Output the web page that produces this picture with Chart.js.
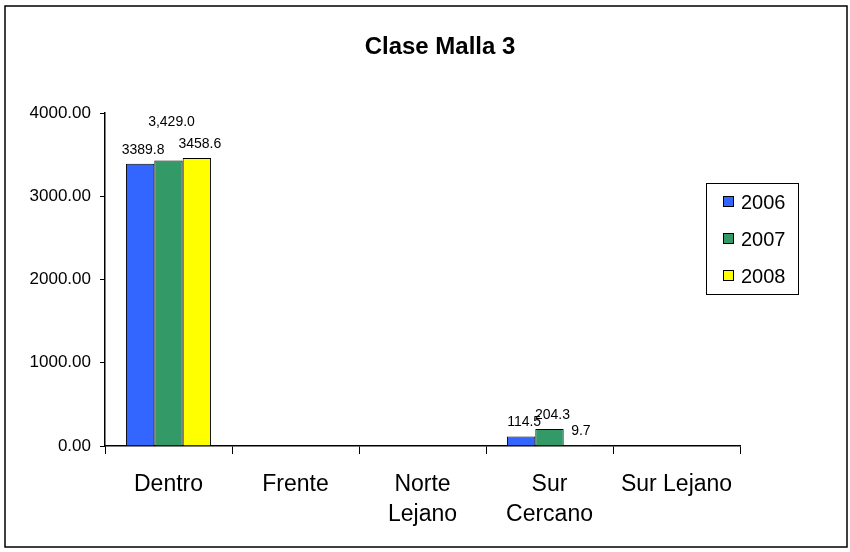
<!DOCTYPE html>
<html>
<head>
<meta charset="utf-8">
<script src="https://cdn.jsdelivr.net/npm/chart.js@4/dist/chart.umd.min.js"></script>
<style>
  html, body { margin: 0; padding: 0; background: #fff; }
  #wrap { width: 850px; height: 552px; position: relative; }
</style>
</head>
<body>
<div id="wrap"><canvas id="chart" width="850" height="552"></canvas></div>
<script>
// Clase Malla 3 - bar chart

const categories = ['Dentro', 'Frente', ['Norte', 'Lejano'], ['Sur', 'Cercano'], 'Sur Lejano'];
const years = ['2006', '2007', '2008'];
const values2006 = [3389.8, null, null, 114.5, null];
const values2007 = [3429.0, null, null, 204.3, null];
const values2008 = [3458.6, null, null, 9.7, null];
const labels2006 = ['3389.8', null, null, '114.5', null];
const labels2007 = ['3,429.0', null, null, '204.3', null];
const labels2008 = ['3458.6', null, null, '9.7', null];
const yTicks = [0, 1000, 2000, 3000, 4000];

const colors = ['#3366FF', '#339966', '#FFFF00'];
const FONT = 'Liberation Sans, Arial, sans-serif';

// extra lift for labels that Excel moved up to avoid overlap
const labelLift = { '1-0': 24 };

const frameAndTitle = {
    id: 'frameAndTitle',
    beforeDraw(chart) {
        const c = chart.ctx;
        c.save();
        c.fillStyle = '#fff';
        c.fillRect(0, 0, chart.width, chart.height);
        c.strokeStyle = '#000';
        c.lineWidth = 1.5;
        c.strokeRect(5, 6, 842, 541);
        c.fillStyle = '#000';
        c.font = 'bold 24px ' + FONT;
        c.textAlign = 'center';
        c.textBaseline = 'middle';
        c.fillText('Clase Malla 3', 440, 47);
        c.restore();
    },
    afterDraw(chart) {
        const c = chart.ctx;
        c.save();
        // data labels
        c.font = '14px ' + FONT;
        c.fillStyle = '#000';
        c.textAlign = 'center';
        c.textBaseline = 'middle';
        const allLabels = [labels2006, labels2007, labels2008];
        chart.data.datasets.forEach((ds, di) => {
            const meta = chart.getDatasetMeta(di);
            meta.data.forEach((bar, i) => {
                const txt = allLabels[di][i];
                if (!txt) return;
                const lift = labelLift[di + '-' + i] || 0;
                c.fillText(txt, bar.x + 3, bar.y - 14 - lift);
            });
        });
        // legend
        c.strokeStyle = '#000';
        c.lineWidth = 1;
        c.strokeRect(706.5, 183.5, 92, 111);
        c.font = '20px ' + FONT;
        c.textAlign = 'left';
        years.forEach((y, k) => {
            const cy = 202 + k * 37;
            c.fillStyle = colors[k];
            c.fillRect(723.5, cy - 5.5, 10, 10);
            c.strokeRect(723.5, cy - 5.5, 10, 10);
            c.fillStyle = '#000';
            c.fillText(y, 741, cy + 1);
        });
        c.restore();
    }
};

const ctx = document.getElementById('chart').getContext('2d');
new Chart(ctx, {
    type: 'bar',
    data: {
        labels: categories,
        datasets: [
            { label: years[0], data: values2006, backgroundColor: colors[0] },
            { label: years[1], data: values2007, backgroundColor: colors[1] },
            { label: years[2], data: values2008, backgroundColor: colors[2] }
        ].map(d => Object.assign(d, { borderColor: '#000', borderWidth: 1, borderSkipped: 'bottom' }))
    },
    options: {
        responsive: false,
        animation: false,
        events: [],
        layout: { padding: { top: 113, right: 110, left: 0, bottom: 0 } },
        datasets: { bar: { categoryPercentage: 0.67, barPercentage: 1 } },
        plugins: { legend: { display: false }, title: { display: false }, tooltip: { enabled: false } },
        scales: {
            x: {
                grid: { drawOnChartArea: false, drawTicks: true, tickLength: 8, color: '#000', offset: true },
                border: { color: '#000', width: 1.5 },
                ticks: { color: '#000', font: { family: FONT, size: 23, lineHeight: 1.3 }, padding: 16, maxRotation: 0, autoSkip: false },
                afterFit(scale) { scale.height = 106; }
            },
            y: {
                min: yTicks[0],
                max: yTicks[yTicks.length - 1],
                afterBuildTicks(scale) { scale.ticks = yTicks.map(v => ({ value: v })); },
                grid: { drawOnChartArea: false, drawTicks: true, tickLength: 5, color: '#000' },
                border: { color: '#000', width: 1.5 },
                ticks: { color: '#000', font: { family: FONT, size: 17 }, padding: 9, callback: v => v.toFixed(2) },
                afterFit(scale) { scale.width = 105; }
            }
        }
    },
    plugins: [frameAndTitle]
});
</script>
</body>
</html>
